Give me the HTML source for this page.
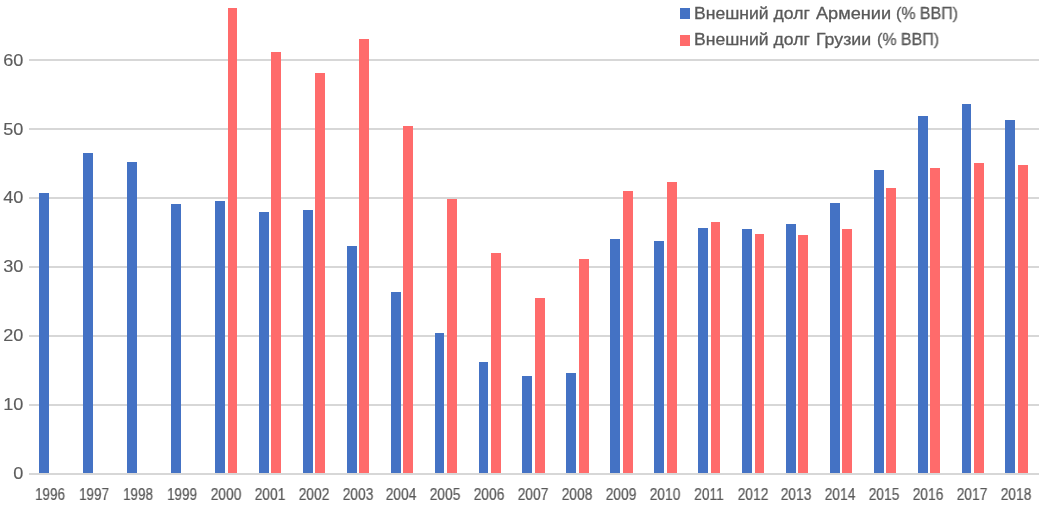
<!DOCTYPE html>
<html><head><meta charset="utf-8"><title>chart</title>
<style>
html,body{margin:0;padding:0;background:#fff;}
body{width:1040px;height:505px;position:relative;overflow:hidden;font-family:"Liberation Sans",sans-serif;color:#595959;}
.g{position:absolute;left:29px;width:1010px;height:2px;background:#d7d7d7;}
.b{position:absolute;background:#4472c4;}
.r{position:absolute;background:#ff6b6b;}
.y{position:absolute;left:0;width:23.3px;text-align:right;font-size:17px;line-height:20px;height:20px;color:#5c5c5c;transform:scaleX(1.065);transform-origin:100% 50%;will-change:transform;-webkit-text-stroke:0.15px #5c5c5c;}
.x{position:absolute;top:485px;width:44px;text-align:center;font-size:16px;line-height:20px;height:20px;color:#595959;transform:scaleX(0.83);transform-origin:50% 50%;will-change:transform;-webkit-text-stroke:0.22px #595959;}
.lg{position:absolute;font-size:16.4px;-webkit-text-stroke:0.3px #595959;will-change:transform;line-height:20px;height:20px;white-space:nowrap;color:#595959;transform-origin:0 50%;}
.sq{position:absolute;left:680px;width:10px;height:11px;}
</style></head><body>

<div class="g" style="top:59px"></div>
<div class="g" style="top:128px"></div>
<div class="g" style="top:197px"></div>
<div class="g" style="top:266px"></div>
<div class="g" style="top:335px"></div>
<div class="g" style="top:404px"></div>
<div class="b" style="left:39px;top:193px;width:10px;height:280px"></div>
<div class="b" style="left:83px;top:153px;width:10px;height:320px"></div>
<div class="b" style="left:127px;top:162px;width:10px;height:311px"></div>
<div class="b" style="left:171px;top:204px;width:10px;height:269px"></div>
<div class="b" style="left:215px;top:201px;width:10px;height:272px"></div>
<div class="b" style="left:259px;top:212px;width:10px;height:261px"></div>
<div class="b" style="left:303px;top:210px;width:10px;height:263px"></div>
<div class="b" style="left:347px;top:246px;width:10px;height:227px"></div>
<div class="b" style="left:391px;top:292px;width:10px;height:181px"></div>
<div class="b" style="left:435px;top:333px;width:9px;height:140px"></div>
<div class="b" style="left:479px;top:362px;width:9px;height:111px"></div>
<div class="b" style="left:522px;top:376px;width:10px;height:97px"></div>
<div class="b" style="left:566px;top:373px;width:10px;height:100px"></div>
<div class="b" style="left:610px;top:239px;width:10px;height:234px"></div>
<div class="b" style="left:654px;top:241px;width:10px;height:232px"></div>
<div class="b" style="left:698px;top:228px;width:10px;height:245px"></div>
<div class="b" style="left:742px;top:229px;width:10px;height:244px"></div>
<div class="b" style="left:786px;top:224px;width:10px;height:249px"></div>
<div class="b" style="left:830px;top:203px;width:10px;height:270px"></div>
<div class="b" style="left:874px;top:170px;width:10px;height:303px"></div>
<div class="b" style="left:918px;top:116px;width:10px;height:357px"></div>
<div class="b" style="left:962px;top:104px;width:9px;height:369px"></div>
<div class="b" style="left:1005px;top:120px;width:10px;height:353px"></div>
<div class="r" style="left:228px;top:8px;width:9px;height:465px"></div>
<div class="r" style="left:271px;top:52px;width:10px;height:421px"></div>
<div class="r" style="left:315px;top:73px;width:10px;height:400px"></div>
<div class="r" style="left:359px;top:39px;width:10px;height:434px"></div>
<div class="r" style="left:403px;top:126px;width:10px;height:347px"></div>
<div class="r" style="left:447px;top:199px;width:10px;height:274px"></div>
<div class="r" style="left:491px;top:253px;width:10px;height:220px"></div>
<div class="r" style="left:535px;top:298px;width:10px;height:175px"></div>
<div class="r" style="left:579px;top:259px;width:10px;height:214px"></div>
<div class="r" style="left:623px;top:191px;width:10px;height:282px"></div>
<div class="r" style="left:667px;top:182px;width:10px;height:291px"></div>
<div class="r" style="left:711px;top:222px;width:9px;height:251px"></div>
<div class="r" style="left:755px;top:234px;width:9px;height:239px"></div>
<div class="r" style="left:798px;top:235px;width:10px;height:238px"></div>
<div class="r" style="left:842px;top:229px;width:10px;height:244px"></div>
<div class="r" style="left:886px;top:188px;width:10px;height:285px"></div>
<div class="r" style="left:930px;top:168px;width:10px;height:305px"></div>
<div class="r" style="left:974px;top:163px;width:10px;height:310px"></div>
<div class="r" style="left:1018px;top:165px;width:10px;height:308px"></div>
<div class="g" style="top:473px"></div>
<div class="y" style="top:51px">60</div>
<div class="y" style="top:120px">50</div>
<div class="y" style="top:188px">40</div>
<div class="y" style="top:257px">30</div>
<div class="y" style="top:326px">20</div>
<div class="y" style="top:395px">10</div>
<div class="y" style="top:464px">0</div>
<div class="x" style="left:28.3px;transform:scaleX(0.84)">1996</div>
<div class="x" style="left:72.2px;transform:scaleX(0.84)">1997</div>
<div class="x" style="left:116.1px;transform:scaleX(0.84)">1998</div>
<div class="x" style="left:160.0px;transform:scaleX(0.84)">1999</div>
<div class="x" style="left:203.9px;transform:scaleX(0.858)">2000</div>
<div class="x" style="left:247.8px;transform:scaleX(0.858)">2001</div>
<div class="x" style="left:291.6px;transform:scaleX(0.858)">2002</div>
<div class="x" style="left:335.5px;transform:scaleX(0.858)">2003</div>
<div class="x" style="left:379.4px;transform:scaleX(0.858)">2004</div>
<div class="x" style="left:423.3px;transform:scaleX(0.858)">2005</div>
<div class="x" style="left:467.2px;transform:scaleX(0.858)">2006</div>
<div class="x" style="left:511.1px;transform:scaleX(0.858)">2007</div>
<div class="x" style="left:555.0px;transform:scaleX(0.858)">2008</div>
<div class="x" style="left:598.9px;transform:scaleX(0.858)">2009</div>
<div class="x" style="left:642.8px;transform:scaleX(0.858)">2010</div>
<div class="x" style="left:686.6px;transform:scaleX(0.858)">2011</div>
<div class="x" style="left:730.5px;transform:scaleX(0.858)">2012</div>
<div class="x" style="left:774.4px;transform:scaleX(0.858)">2013</div>
<div class="x" style="left:818.3px;transform:scaleX(0.858)">2014</div>
<div class="x" style="left:862.2px;transform:scaleX(0.858)">2015</div>
<div class="x" style="left:906.1px;transform:scaleX(0.858)">2016</div>
<div class="x" style="left:950.0px;transform:scaleX(0.858)">2017</div>
<div class="x" style="left:993.9px;transform:scaleX(0.858)">2018</div>
<div class="sq" style="top:8px;background:#4472c4"></div>
<div class="sq" style="top:35px;background:#ff6b6b"></div>
<div class="lg" style="top:3px;left:694.4px;transform:scaleX(1.072)">Внешний долг</div>
<div class="lg" style="top:3px;left:816.3px;transform:scaleX(1.107)">Армении</div>
<div class="lg" style="top:3px;left:895.8px;transform:scaleX(0.973)">(% ВВП)</div>
<div class="lg" style="top:28.8px;left:694.4px;transform:scaleX(1.072)">Внешний долг</div>
<div class="lg" style="top:28.8px;left:816.4px;transform:scaleX(1.083)">Грузии</div>
<div class="lg" style="top:28.8px;left:876.6px;transform:scaleX(0.974)">(% ВВП)</div>
</body></html>
